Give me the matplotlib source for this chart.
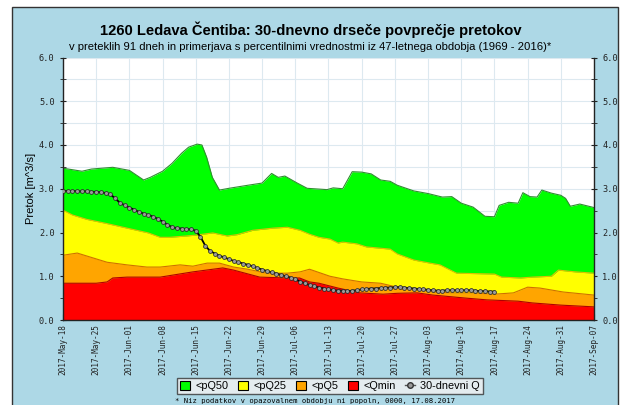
import numpy as np
import pandas as pd
import matplotlib
matplotlib.use("Agg")
import matplotlib.pyplot as plt
import matplotlib.dates as mdates
from matplotlib.patches import Patch, Rectangle
from matplotlib.lines import Line2D
from matplotlib.ticker import MultipleLocator

start = pd.Timestamp("2017-05-18")
end = pd.Timestamp("2017-09-07")

# percentile envelopes: (day offset from start, value)
q50_days = [0, 4, 6, 10.5, 14, 17, 18.4, 21, 23, 25, 26.5, 28.3, 29.3, 30.3, 31.5, 33, 35,
            39, 42, 44, 45.4, 46.8, 49.4, 51.5, 55.7, 57, 59, 61, 63, 65, 67, 69, 70.5,
            74, 77, 80, 82, 84, 86.5, 89, 91, 92, 94, 96, 97, 98.5, 100, 101, 103, 105,
            106, 107, 109, 112]
q50_vals = [3.47, 3.40, 3.45, 3.49, 3.42, 3.20, 3.26, 3.40, 3.58, 3.81, 3.95, 4.02, 4.00,
            3.72, 3.26, 2.97, 3.01, 3.08, 3.13, 3.35, 3.26, 3.29, 3.13, 3.01, 2.98, 3.02,
            3.00, 3.39, 3.38, 3.34, 3.20, 3.17, 3.08, 2.95, 2.89, 2.81, 2.82, 2.67, 2.58,
            2.37, 2.36, 2.62, 2.69, 2.67, 2.91, 2.82, 2.81, 2.97, 2.90, 2.85, 2.78, 2.60,
            2.65, 2.57]

q25_days = [0, 2, 5, 9, 13.5, 18, 20.5, 22.5, 26, 28, 31.6, 34.6, 36.7, 40, 44.3, 47.3, 50,
            52, 54, 56.3, 58, 59, 62, 64, 67, 69, 70.5, 74, 77.4, 79.5, 83, 91, 92.5, 96.5,
            99, 103, 104.5, 108, 112]
q25_vals = [2.51, 2.40, 2.30, 2.21, 2.10, 1.99, 1.89, 1.89, 1.92, 1.94, 1.99, 1.92, 1.95,
            2.05, 2.10, 2.12, 2.05, 1.96, 1.89, 1.85, 1.76, 1.78, 1.74, 1.67, 1.64, 1.62,
            1.51, 1.37, 1.30, 1.26, 1.07, 1.05, 0.98, 0.96, 0.98, 1.00, 1.14, 1.10, 1.07]

q5_days = [0, 3, 6.3, 9.3, 13.5, 17.7, 20.5, 24.7, 27.4, 30.4, 33, 36, 39, 43, 47.3, 50, 52,
           56.3, 59, 63, 67, 70.5, 74, 78, 82, 86.5, 91, 95, 98, 100.6, 105.5, 112]
q5_vals = [1.48, 1.53, 1.42, 1.32, 1.26, 1.21, 1.21, 1.26, 1.23, 1.30, 1.30, 1.21, 1.16,
           1.07, 1.07, 1.10, 1.16, 1.00, 0.94, 0.87, 0.84, 0.75, 0.71, 0.64, 0.62, 0.62,
           0.59, 0.62, 0.75, 0.73, 0.64, 0.57]

qmin_days = [0, 7, 9.3, 10.5, 13.5, 20.5, 27.4, 33.7, 36, 41.5, 47.3, 49.9, 52, 54, 58,
             62.6, 67.5, 70.5, 74.7, 78, 85, 89.4, 96, 99, 105, 112]
qmin_vals = [0.84, 0.84, 0.87, 0.96, 0.98, 0.98, 1.10, 1.19, 1.14, 0.98, 0.96, 0.96, 0.87,
             0.84, 0.73, 0.62, 0.59, 0.61, 0.62, 0.57, 0.50, 0.46, 0.43, 0.39, 0.34, 0.30]

# 30-day moving average, daily from 2017-05-18 to 2017-08-17
q30 = [2.95, 2.95, 2.95, 2.94, 2.94, 2.94, 2.93, 2.93, 2.92, 2.90, 2.87, 2.78, 2.68, 2.62,
       2.57, 2.52, 2.47, 2.43, 2.40, 2.36, 2.31, 2.25, 2.18, 2.12, 2.10, 2.09, 2.08, 2.07,
       2.04, 1.90, 1.70, 1.58, 1.52, 1.47, 1.43, 1.39, 1.35, 1.32, 1.29, 1.26, 1.23, 1.19,
       1.15, 1.12, 1.09, 1.06, 1.03, 1.00, 0.97, 0.93, 0.88, 0.84, 0.80, 0.77, 0.74, 0.72,
       0.70, 0.68, 0.67, 0.67, 0.66, 0.67, 0.68, 0.70, 0.71, 0.72, 0.72, 0.73, 0.74, 0.74,
       0.75, 0.75, 0.74, 0.73, 0.72, 0.71, 0.70, 0.69, 0.68, 0.67, 0.67, 0.68, 0.68, 0.68,
       0.68, 0.68, 0.68, 0.67, 0.66, 0.66, 0.65, 0.65]


def to_dates(days):
    return [start + pd.Timedelta(days=d) for d in days]


bg = "#add8e6"
sans = ["Liberation Sans", "DejaVu Sans"]
mono = "DejaVu Sans Mono"

fig = plt.figure(figsize=(6.21, 4.05), dpi=100, facecolor="white")
fig.patches.append(Rectangle((12 / 621, -0.01), 606 / 621, 1.01 - 7 / 405,
                             transform=fig.transFigure, facecolor=bg,
                             edgecolor="#333333", lw=1.0, zorder=-10))

ax = fig.add_axes([63 / 621, 1 - 320 / 405, 531 / 621, 262.5 / 405])
ax.set_facecolor("white")

layers = [
    (q50_days, q50_vals, "#00ff00", "#2f8f2f"),
    (q25_days, q25_vals, "#ffff00", "#e0c000"),
    (q5_days, q5_vals, "#ffa500", "#d07000"),
    (qmin_days, qmin_vals, "#ff0000", "#b00000"),
]
for days, vals, fc, ec in layers:
    d = to_dates(days)
    ax.fill_between(d, 0, vals, color=fc, lw=0, zorder=2)
    ax.plot(d, vals, color=ec, lw=0.8, zorder=2.5)

q30_dates = pd.date_range(start, periods=len(q30), freq="D")
ax.plot(q30_dates, q30, color="black", lw=1.3, marker="o", markersize=2.8,
        markerfacecolor="#9a9a9a", markeredgecolor="#222222", markeredgewidth=0.5,
        zorder=4)

ax.set_xlim(start, end)
ax.set_ylim(0, 6)

weekly = pd.date_range(start, end, freq="7D")
ax.set_xticks(weekly)
ax.xaxis.set_major_formatter(mdates.DateFormatter("%Y-%b-%d"))
ax.xaxis.set_minor_locator(mdates.DayLocator())
ax.yaxis.set_major_locator(MultipleLocator(1.0))
ax.yaxis.set_minor_locator(MultipleLocator(0.5))
ax.yaxis.set_major_formatter(matplotlib.ticker.FormatStrFormatter("%.1f"))

ax.grid(True, which="major", axis="x", color="#dde9f0", lw=0.8)
ax.grid(True, which="both", axis="y", color="#dde9f0", lw=0.8)
for gl in ax.get_xgridlines() + ax.get_ygridlines():
    gl.set_zorder(3)

ax.tick_params(axis="x", which="major", direction="in", length=4, labelsize=5.6,
               labelrotation=90, colors="#222222", pad=3)
ax.tick_params(axis="x", which="minor", direction="in", length=2.5, colors="#222222")
ax.tick_params(axis="y", which="both", direction="inout", length=5, labelsize=6.2,
               left=True, right=True, labelleft=True, labelright=True, colors="#222222")
for lab in ax.get_xticklabels() + ax.get_yticklabels():
    lab.set_fontfamily(mono)

for s in ["left", "right", "bottom"]:
    ax.spines[s].set_color("#222222")
    ax.spines[s].set_linewidth(1.0)
ax.spines["top"].set_visible(False)

ax.set_ylabel("Pretok [m^3/s]", fontsize=8, labelpad=2, family=sans)

fig.text(0.5, 1 - 30 / 405, "1260 Ledava Čentiba: 30-dnevno drseče povprečje pretokov",
         ha="center", va="center", fontsize=10.6, fontweight="bold", family=sans)
fig.text(0.5, 1 - 47 / 405,
         "v preteklih 91 dneh in primerjava s percentilnimi vrednostmi iz 47-letnega obdobja (1969 - 2016)*",
         ha="center", va="center", fontsize=8.1, family=sans)

handles = [
    Patch(facecolor="#00ff00", edgecolor="black", lw=0.8),
    Patch(facecolor="#ffff00", edgecolor="black", lw=0.8),
    Patch(facecolor="#ffa500", edgecolor="black", lw=0.8),
    Patch(facecolor="#ff0000", edgecolor="black", lw=0.8),
    Line2D([], [], color="#555555", lw=1.0, marker="o", markersize=4,
           markerfacecolor="#9a9a9a", markeredgecolor="#333333"),
]
labels = ["<pQ50", "<pQ25", "<pQ5", "<Qmin", "30-dnevni Q"]
leg = fig.legend(handles, labels, loc="center", bbox_to_anchor=(330 / 621, 1 - 386 / 405),
                 ncol=5, frameon=True, fancybox=False, shadow=False,
                 prop={"family": sans, "size": 7.8},
                 handlelength=0.9, handleheight=0.9, handletextpad=0.5,
                 columnspacing=0.9, borderpad=0.3)
leg.get_frame().set_facecolor("#f2f2f2")
leg.get_frame().set_edgecolor("#333333")
leg.get_frame().set_linewidth(1.0)

fig.text(315 / 621, 1 - 404 / 405,
         "* Niz podatkov v opazovalnem obdobju ni popoln, 0000, 17.08.2017",
         ha="center", va="bottom", fontsize=5.2, family=mono)

fig.savefig("out.png", dpi=100, facecolor=fig.get_facecolor())
